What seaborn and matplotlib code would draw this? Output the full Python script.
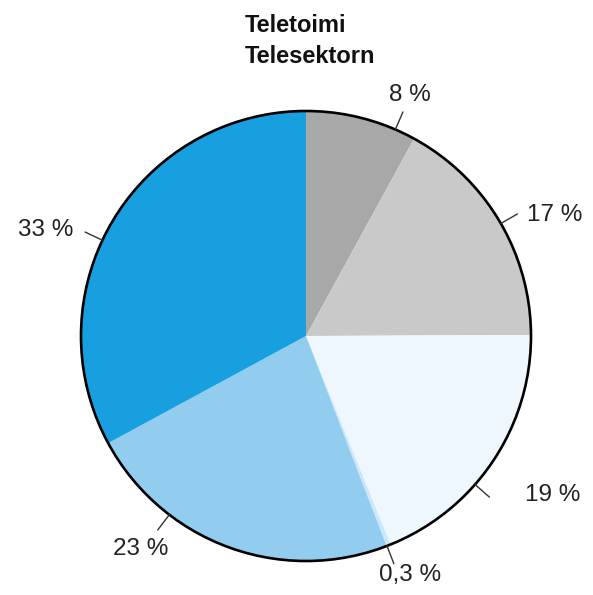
import numpy as np
import seaborn as sns
import matplotlib.pyplot as plt
from matplotlib.patches import Circle

# Slice values, clockwise from 12 o'clock
shares = [8, 17, 19, 0.3, 23, 33]
labels = ['8 %', '17 %', '19 %', '0,3 %', '23 %', '33 %']
colors = ['#a8a8a8', '#c9c9c9', '#eef7fd', '#cbe7f8', '#92cdf0', '#189fe0']

# label placement (degrees clockwise from top, radius as fraction of pie radius)
tick_angles = [23.4, 60, 131.3, 158.9, 217.4, 295.2]
text_angles = [23.3, 64, 122.8, 156.5, 217.8, 292.1]
text_radii = [1.167, 1.23, 1.306, 1.16, 1.2, 1.25]

sns.set_style('white')
plt.rcParams['font.family'] = ['Liberation Sans', 'DejaVu Sans']

fig = plt.figure(figsize=(5.93, 5.95), dpi=100)
ax = fig.add_axes([81 / 593, 34 / 595, 450 / 593, 450 / 595])

ax.pie(shares, colors=colors, startangle=90, counterclock=False,
       radius=1, wedgeprops=dict(linewidth=0))
ax.add_patch(Circle((0, 0), 1, fill=False, edgecolor='black', lw=1.9,
                    zorder=5, clip_on=False))


def polar(theta, r):
    a = np.deg2rad(90 - theta)
    return r * np.cos(a), r * np.sin(a)


for lab, ta, tx, tr in zip(labels, tick_angles, text_angles, text_radii):
    x0, y0 = polar(ta, 1.0)
    x1, y1 = polar(ta, 1.085)
    ax.plot([x0, x1], [y0, y1], color='#333333', lw=1.0, clip_on=False, zorder=6)
    x, y = polar(tx, tr)
    ax.text(x, y, lab, ha='center', va='center', fontsize=17.5,
            color='#222222', clip_on=False)

ax.set_xlim(-1, 1)
ax.set_ylim(-1, 1)
ax.set_aspect('equal')
ax.axis('off')

fig.text(245 / 593, 1 - 32 / 595, 'Teletoimi', fontsize=17, fontweight='bold',
         ha='left', va='baseline', color='#111111')
fig.text(245 / 593, 1 - 63 / 595, 'Telesektorn', fontsize=17, fontweight='bold',
         ha='left', va='baseline', color='#111111')

fig.savefig('out.png', dpi=100, facecolor='white')
